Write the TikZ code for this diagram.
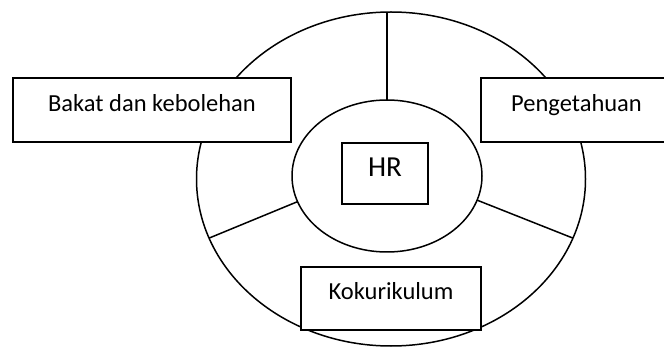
\documentclass[tikz,border=0pt]{standalone}
\usepackage{fontspec}
\setmainfont{Carlito}
\usetikzlibrary{shapes.geometric}

\tikzset{
    ring/.style={draw, ellipse, line width=1.5pt, inner sep=0pt, outer sep=0pt},
    spoke/.style={line width=1.5pt},
    facetbox/.style={draw, fill=white, line width=1.5pt, inner sep=0pt, outer sep=0pt,
        font=\fontsize{24.5}{29}\selectfont, text height=0.56em, text depth=0.33em},
}

\begin{document}
\begin{tikzpicture}[x=1pt,y=1pt]
    \useasboundingbox (0,0) rectangle (664,-347);
    \node[ring, minimum width=389, minimum height=334] (outer) at (391,-179) {};
    \node[ring, minimum width=190, minimum height=152] (inner) at (387,-176) {};
    \draw[spoke] (inner.north) -- (inner.north |- outer.north);
    \draw[spoke] (inner.-15) -- (outer.-18);
    \draw[spoke] (inner.196) -- (outer.198);
    \node[facetbox, minimum width=278, minimum height=64] (bakat) at (152,-110) {Bakat dan kebolehan};
    \node[facetbox, minimum width=191, minimum height=64] (tahu) at (576.5,-110) {Pengetahuan};
    \node[facetbox, minimum width=180, minimum height=63] (koko) at (391,-298.5) {Kokurikulum};
    \node[facetbox, minimum width=86, minimum height=61, font=\fontsize{29}{34}\selectfont,
        text height=0.64em, text depth=0pt] (hr) at (385,-173.5) {HR};
\end{tikzpicture}
\end{document}
